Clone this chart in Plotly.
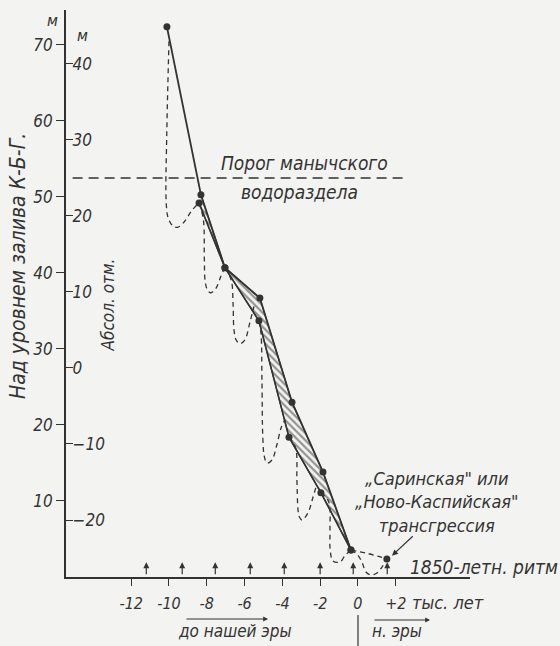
import plotly.graph_objects as go

# ---------------- data ----------------
# main level curve: upper (right) edge of the hatched band, thousand years / m above K-B-G bay
upper_x = [-10.11, -8.31, -7.04, -5.19, -3.49, -1.85, -0.37]
upper_y = [72.4, 50.3, 40.7, 36.7, 23.0, 13.8, 3.55]
# lower (left) edge of the hatched band
lower_x = [-8.41, -7.04, -5.24, -3.65, -1.96, -0.37]
lower_y = [49.2, 40.7, 33.7, 18.4, 11.1, 3.55]
# "Sarinskaya / Novo-Caspian" transgression point
final_x = [1.53]
final_y = [2.37]

# dashed 1850-year oscillations (one list per swing)
dip1_x = [-10.0, -10.12, -10.15, -10.05, -9.8, -9.55, -9.2, -8.8, -8.41]
dip1_y = [70.5, 58.0, 49.5, 47.3, 46.2, 46.0, 46.7, 48.2, 49.2]
dip2_x = [-8.41, -8.18, -8.13, -8.08, -7.95, -7.78, -7.51, -7.25, -7.04]
dip2_y = [49.2, 47.0, 42.0, 38.8, 37.7, 37.4, 38.0, 39.6, 40.7]
dip3_x = [-7.04, -6.70, -6.61, -6.56, -6.45, -6.24, -5.98, -5.71, -5.50]
dip3_y = [40.7, 39.0, 36.0, 32.5, 31.2, 30.7, 31.2, 33.6, 35.6]
dip4_x = [-5.24, -5.13, -5.08, -5.03, -4.95, -4.81, -4.55, -4.29, -4.07, -3.86]
dip4_y = [33.7, 32.0, 25.9, 18.0, 15.8, 15.0, 15.4, 17.4, 19.6, 20.7]
dip5_x = [-3.65, -3.30, -3.23, -3.17, -3.10, -2.96, -2.65, -2.38, -2.20]
dip5_y = [18.4, 17.0, 12.8, 8.8, 7.9, 7.5, 8.4, 10.5, 12.0]
dip6_x = [-1.96, -1.55, -1.48, -1.47, -1.32, -0.95, -0.69, -0.37]
dip6_y = [11.1, 9.9, 6.2, 3.6, 2.1, 1.97, 2.8, 3.55]
dip7_x = [-0.37, -0.05, 0.21, 0.42, 0.69, 1.01, 1.27, 1.53]
dip7_y = [3.55, 3.0, 1.97, 0.66, 0.26, 0.53, 1.3, 2.37]
trend_x = [-0.37, 0.5, 1.1, 1.53]
trend_y = [3.55, 3.1, 2.7, 2.37]

# 1850-year rhythm marks (arrows on the time axis)
rhythm_x = [-11.2, -9.3, -7.55, -5.7, -3.9, -2.0, -0.25, 1.55]
rhythm_len = 1.95

# Manych watershed threshold
threshold_y = 52.5
threshold_x = [-15.1, 2.65]

# axes
x_ticks = [-12, -10, -8, -6, -4, -2, 0, 2]
x_ticktext = ["-12", "-10", "-8", "-6", "-4", "-2", "0", "+2"]
y_ticks = [10, 20, 30, 40, 50, 60, 70]
abs_offset = 27.5          # absolute mark = level above K-B-G - 27.5
abs_ticks = [-20, -10, 0, 10, 20, 30, 40]
x_range = [-15.45, 5.93]
y_range = [0, 74.6]

INK = "#333333"
BG = "#f3f3f1"
FONT = "DejaVu Sans Condensed, Liberation Sans Narrow, sans-serif"
ML, MR, MT, MB, W, H = 66, 90, 10, 69, 560, 646
PW, PH = W - ML - MR, H - MT - MB


def px(x, y):
    """pixel position on the page -> paper coordinates"""
    return (x - ML) / PW, (H - MB - y) / PH


fig = go.Figure()

# hatched band
fig.add_trace(go.Scatter(
    x=upper_x[1:] + lower_x[::-1], y=upper_y[1:] + lower_y[::-1],
    mode="lines", fill="toself", line=dict(color=INK, width=1.2),
    fillcolor="rgba(0,0,0,0)",
    fillpattern=dict(shape="\\", size=5, solidity=0.45, fgcolor=INK, bgcolor=BG),
    hoverinfo="skip", showlegend=False))
# upper and lower solid lines
fig.add_trace(go.Scatter(x=upper_x, y=upper_y, mode="lines",
                         line=dict(color=INK, width=1.8), showlegend=False))
fig.add_trace(go.Scatter(x=lower_x, y=lower_y, mode="lines",
                         line=dict(color=INK, width=1.6), showlegend=False))

# dashed oscillations
for dx, dy in [(dip1_x, dip1_y), (dip2_x, dip2_y), (dip3_x, dip3_y), (dip4_x, dip4_y),
               (dip5_x, dip5_y), (dip6_x, dip6_y), (dip7_x, dip7_y), (trend_x, trend_y)]:
    fig.add_trace(go.Scatter(x=dx, y=dy, mode="lines",
                             line=dict(color=INK, width=1.3, dash="5px,4px",
                                       shape="spline", smoothing=1.0),
                             showlegend=False))

# threshold line
fig.add_trace(go.Scatter(x=threshold_x, y=[threshold_y, threshold_y], mode="lines",
                         line=dict(color=INK, width=1.4, dash="10px,6px"), showlegend=False))

# dots
fig.add_trace(go.Scatter(x=upper_x + lower_x + final_x, y=upper_y + lower_y + final_y,
                         mode="markers", marker=dict(color=INK, size=7),
                         showlegend=False))

# dummy trace for second (absolute) scale
fig.add_trace(go.Scatter(x=[None], y=[None], yaxis="y2", showlegend=False))

ann = []


def tfont(size):
    return dict(family=FONT, size=size, color=INK, style="italic")


def txt(x, y, s, size=19, angle=0, xanchor="center"):
    ann.append(dict(x=x, y=y, xref="x", yref="y", text=s, showarrow=False,
                    textangle=angle, xanchor=xanchor, yanchor="middle", align="center",
                    font=tfont(size)))


def ptxt(x, y, s, size=19, angle=0, xanchor="center"):
    xp, yp = px(x, y)
    ann.append(dict(x=xp, y=yp, xref="paper", yref="paper", text=s, showarrow=False,
                    textangle=angle, xanchor=xanchor, yanchor="middle", font=tfont(size)))


# rhythm arrows
for rx in rhythm_x:
    ann.append(dict(x=rx, y=rhythm_len, ax=rx, ay=0.15, xref="x", yref="y",
                    axref="x", ayref="y", text="", showarrow=True,
                    arrowhead=2, arrowsize=1.0, arrowwidth=1.2, arrowcolor=INK))
# arrow to the transgression point
ann.append(dict(x=1.80, y=2.80, ax=2.98, ay=5.55, xref="x", yref="y",
                axref="x", ayref="y", text="", showarrow=True,
                arrowhead=2, arrowsize=1.0, arrowwidth=1.2, arrowcolor=INK))
# era arrows (below the axis)
for hx, hy, length in [(268, 619, 83), (430, 620, 57)]:
    xp, yp = px(hx, hy)
    ann.append(dict(x=xp, y=yp, xref="paper", yref="paper", ax=-length, ay=0,
                    text="", showarrow=True, arrowhead=2, arrowsize=0.8,
                    arrowwidth=1.2, arrowcolor=INK))

txt(-2.85, 54.5, "Порог манычского")
txt(-3.07, 50.7, "водораздела")
txt(4.18, 9.87, "„Саринская\" или<br>„Ново-Каспийская\"<br>трансгрессия", size=18)
ptxt(408, 567, "1850-летн. ритм", xanchor="left")
ptxt(410, 603, "тыс. лет", size=18, xanchor="left")
ptxt(235, 631, "до нашей эры", size=17)
ptxt(370, 631, "н. эры", size=17, xanchor="left")
ptxt(18, 266, "Над уровнем залива К-Б-Г.", size=21, angle=-90)
txt(-13.25, 35.8, "Абсол. отм.", size=17, angle=-90)
ptxt(52, 20, "м", size=16)
txt(-14.6, 71.3, "м", size=16)

sx0, sy0 = px(358, 615)
sx1, sy1 = px(358, 646)
shapes = [dict(type="line", xref="paper", yref="paper", x0=sx0, x1=sx1, y0=sy0, y1=sy1,
               line=dict(color=INK, width=1.2))]

fig.update_layout(
    width=W, height=H,
    margin=dict(l=ML, r=MR, t=MT, b=MB),
    paper_bgcolor=BG, plot_bgcolor=BG,
    font=dict(family=FONT, size=17, color=INK, style="italic"),
    xaxis=dict(range=x_range, showgrid=False, zeroline=False, showline=True,
               linecolor=INK, linewidth=1.5, ticks="outside", ticklen=7,
               tickwidth=1.3, tickcolor=INK, tickvals=x_ticks, ticktext=x_ticktext,
               tickfont=tfont(16), ticklabelstandoff=4),
    yaxis=dict(range=y_range, showgrid=False, zeroline=False, showline=True,
               linecolor=INK, linewidth=1.6, ticks="outside", ticklen=8,
               tickwidth=1.3, tickcolor=INK, tickvals=y_ticks,
               tickfont=tfont(17)),
    yaxis2=dict(range=[y_range[0] - abs_offset, y_range[1] - abs_offset],
                overlaying="y", anchor="x", side="left", showgrid=False,
                zeroline=False, showline=False, ticks="inside", ticklen=7,
                tickwidth=1.3, tickcolor=INK, tickvals=abs_ticks,
                ticklabelposition="inside", tickfont=tfont(17)),
    annotations=ann, shapes=shapes, showlegend=False,
)

fig.write_html(
    "out.html",
    config={"displayModeBar": False},
    post_script="document.body.style.margin='0';document.body.style.padding='0';"
                "document.body.style.overflow='hidden';",
)
